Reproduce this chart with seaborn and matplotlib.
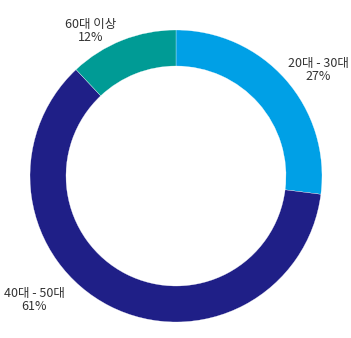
import matplotlib
matplotlib.use("Agg")
import matplotlib.pyplot as plt
import seaborn as sns

categories = ["20대 - 30대", "40대 - 50대", "60대 이상"]
values = [27, 61, 12]
colors = ["#00a0e6", "#1f1f87", "#009b95"]
label_pos = [(318, -70), (34, -300), (91, -31)]

sns.set_theme(style="white")
plt.rcParams['font.family'] = ['Noto Sans CJK KR', 'DejaVu Sans']

fig = plt.figure(figsize=(3.51, 3.38), dpi=100)
ax = fig.add_axes([0, 0, 1, 1])
ax.pie(values, colors=colors, startangle=90, counterclock=False,
       radius=146, center=(176, -176),
       wedgeprops=dict(width=36, edgecolor="white", linewidth=0.2))
ax.set_xlim(0, 351)
ax.set_ylim(-338, 0)
ax.set_aspect("equal")
ax.axis("off")

for cat, v, (x, y) in zip(categories, values, label_pos):
    ax.text(x, y, f"{cat}\n{v}%", ha="center", va="center", fontsize=9,
            color="#333333", linespacing=1.05, fontweight="light")

fig.savefig("out.png", dpi=100)
